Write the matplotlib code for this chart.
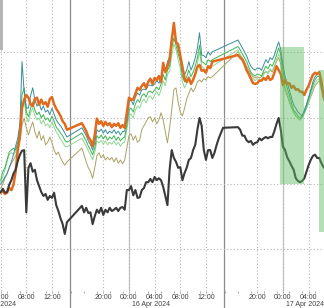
import matplotlib
matplotlib.use('Agg')
import matplotlib.pyplot as plt
import matplotlib.dates as mdates
import matplotlib.transforms as mtransforms
from matplotlib.patches import Rectangle
import pandas as pd

plt.rcParams['font.family'] = ['Liberation Sans', 'DejaVu Sans']

# 20분 간격 시계열 (15 Apr 04:00 ~ 17 Apr 06:40), None = 데이터 없음
times = pd.date_range('2024-04-15 04:00', periods=153, freq='20min')

GAP6 = [None] * 6
GAP11 = [None] * 11

black = [8.7, 9.2, 8.6, 8.7, 9.8, 10.5, 11.5, 12.1, 13.4, 14.4, 15.0, 15.1, 5.6, 12.4, 13.1, 11.8,
         12.1, 10.5, 9.6, 8.7, 8.1, 8.4, 7.5, 8.1, 7.8, 8.6, 6.7, 5.8, 4.7, 3.8, 2.3, 4.1] + GAP6 + \
        [6.6, 5.6, 6.3, 5.5, 5.6, 3.8, 5.0, 6.0, 5.5, 6.3, 5.2, 6.0, 5.6, 6.3, 5.8, 6.0, 6.3, 5.8, 6.3, 6.4,
         6.0, 9.0, 9.0, 9.6, 8.2, 9.0, 7.8, 7.9, 9.0, 9.3, 10.2, 10.2, 10.7, 10.2, 11.0, 10.5, 10.8, 10.5,
         9.5, 8.1, 6.7, 12.1, 15.1, 13.9, 13.3, 12.4, 12.5, 10.5, 11.6, 12.4, 13.6, 13.9, 15.1, 15.9,
         18.2, 20.0, 18.8, 15.1, 13.6, 15.1, 15.1, 13.9,
         14.7, 15.9, 16.9, 17.7, 18.5] + GAP6 + \
        [18.6, 18.2, 17.3, 17.3, 16.6, 16.3, 16.5, 15.9, 16.2, 16.3, 16.9, 16.6, 16.9, 17.1, 16.9, 17.1,
         17.1, 18.0, 19.1, 20.0, 18.2, 15.6, 15.1, 14.0, 13.4, 12.7, 12.1, 10.8, 10.4, 10.2, 10.4, 10.8,
         11.8, 12.8, 13.6, 14.2, 14.4, 13.9, 13.9, 13.1, 12.5, 12.1]

orange = [8.6, 8.9, 8.4, 8.6, 9.3, 9.0, 9.8, 11.8, 15.1, 17.1, 21.5, 22.8, 23.5, 23.1, 22.1, 21.8,
          22.9, 23.1, 22.0, 22.8, 22.1, 22.4, 21.7, 22.9, 23.2, 22.1, 21.4, 20.9, 20.3, 19.5, 19.1, 18.2] + GAP6 + \
         [19.2, 18.6, 18.0, 17.1, 16.6, 15.7, 17.4, 19.9, 19.1, 19.5, 18.8, 19.4, 18.9, 19.2, 18.6, 19.1,
          18.8, 19.2, 18.5, 18.9, 18.5, 20.8, 23.1, 22.8, 22.8, 23.7, 24.6, 24.3, 24.9, 25.3, 24.6, 25.5,
          26.0, 25.2, 26.1, 25.8, 26.4, 25.5, 28.4, 27.0, 27.9, 28.9, 31.9, 34.5, 31.6, 31.2, 29.5, 27.8,
          26.0, 25.5, 26.1, 25.2, 25.8, 26.7, 27.8, 28.1, 27.2, 27.3, 26.9, 27.9, 27.6, 28.6] + GAP11 + \
         [29.6, 29.2, 28.9, 28.2, 27.3, 26.7, 26.0, 25.3, 25.2, 25.3, 25.7, 25.7, 26.1, 25.8, 26.4, 25.8,
          26.0, 26.9, 27.9, 27.3, 26.7, 25.0, 25.8, 25.2, 25.3, 24.6, 24.9, 24.3, 24.4, 24.0, 24.0, 23.5,
          24.3, 24.9, 25.8, 26.6, 26.9, 26.7, 27.0, 25.5, 23.2, 22.4]

teal = [9.9, 10.4, 11.0, 11.5, 12.4, 13.3, 14.4, 15.7, 16.9, 19.1, 28.6, 24.0, 21.5, 21.5, 23.4, 24.6,
        22.8, 21.8, 22.3, 21.2, 21.8, 20.9, 21.2, 20.5, 21.5, 20.6, 19.7, 19.2, 18.8, 18.3, 17.7, 17.1] + GAP6 + \
       [18.5, 17.9, 17.3, 16.5, 15.9, 15.1, 16.2, 18.2, 17.9, 18.3, 17.7, 18.2, 17.6, 18.0, 17.7, 18.2,
        17.6, 18.0, 17.4, 17.9, 18.0, 19.7, 22.4, 22.8, 22.0, 23.2, 23.8, 23.5, 24.3, 24.4, 24.3, 25.0,
        25.0, 24.9, 25.2, 25.7, 25.3, 26.1, 27.6, 26.9, 28.6, 29.3, 32.2, 33.7, 31.9, 30.7, 29.6, 27.3,
        26.6, 27.3, 28.6, 27.3, 28.1, 29.2, 30.7, 33.0, 29.6, 29.5, 29.2, 30.1, 29.6, 30.1] + GAP11 + \
       [31.9, 31.3, 30.7, 30.1, 29.5, 28.6, 27.9, 27.5, 27.3, 27.6, 27.6, 27.3, 28.1, 28.9, 28.4, 29.2,
        28.9, 29.6, 30.7, 31.6, 30.4, 28.1, 26.3, 25.3, 24.3, 23.1, 22.0, 21.5, 20.9, 20.6, 20.3, 21.2,
        22.1, 23.2, 24.3, 25.5, 26.3, 26.7, 26.9, 25.0, 24.0, 23.4]

green = [10.5, 11.8, 12.4, 13.6, 14.8, 15.1, 15.4, 15.1, 16.3, 18.5, 23.5, 24.6, 20.9, 20.2, 21.5, 22.4,
         21.2, 20.5, 20.9, 20.0, 20.5, 19.7, 20.0, 19.4, 20.3, 19.5, 18.6, 18.2, 17.7, 17.3, 16.6, 16.3] + GAP6 + \
        [17.7, 17.1, 16.5, 15.7, 15.1, 14.4, 15.4, 17.3, 16.9, 17.4, 16.8, 17.3, 16.6, 17.1, 16.8, 17.3,
         16.6, 17.1, 16.5, 16.9, 17.1, 18.9, 21.2, 21.5, 20.9, 22.1, 22.8, 22.4, 23.4, 23.7, 23.2, 24.0,
         24.1, 23.8, 24.3, 24.7, 24.3, 25.2, 26.6, 25.8, 27.3, 27.9, 30.7, 32.2, 31.1, 29.8, 28.6, 26.3,
         25.5, 26.3, 27.3, 26.3, 27.0, 27.9, 29.2, 31.1, 28.6, 28.4, 28.1, 28.9, 28.6, 28.9] + GAP11 + \
        [30.9, 30.4, 29.8, 29.2, 28.6, 27.8, 27.0, 26.6, 26.4, 26.7, 26.6, 26.4, 27.2, 27.9, 27.5, 28.2,
         27.9, 28.6, 29.6, 30.7, 29.6, 27.3, 25.5, 24.6, 23.5, 22.3, 21.2, 20.8, 20.3, 20.0, 20.3, 20.9,
         21.8, 22.9, 24.0, 25.0, 25.8, 26.3, 26.4, 24.6, 23.5, 22.9]

lightgreen = [10.2, 11.0, 12.1, 13.3, 14.4, 14.7, 14.4, 14.8, 15.9, 17.9, 22.0, 22.8, 20.0, 19.4, 20.8, 21.5,
              20.3, 19.7, 20.0, 19.1, 19.7, 18.8, 19.1, 18.5, 19.4, 18.6, 17.9, 17.4, 16.8, 16.3, 15.7, 15.6] + GAP6 + \
             [16.9, 16.3, 15.7, 15.0, 14.4, 13.6, 14.7, 16.5, 16.2, 16.6, 16.0, 16.5, 15.9, 16.3, 16.0, 16.5,
              15.9, 16.3, 15.7, 16.2, 16.3, 18.2, 20.3, 20.6, 20.0, 21.2, 21.8, 21.5, 22.4, 22.9, 22.3, 23.1,
              23.4, 22.8, 23.5, 24.0, 23.4, 24.3, 25.7, 24.9, 26.6, 27.2, 29.5, 31.3, 30.4, 28.9, 27.6, 25.5,
              24.6, 25.3, 26.4, 25.3, 26.1, 27.0, 28.2, 30.1, 27.9, 27.6, 27.2, 27.9, 27.6, 27.9] + GAP11 + \
             [30.4, 29.6, 29.0, 28.4, 27.8, 27.0, 26.3, 26.0, 25.7, 26.0, 25.8, 25.8, 26.6, 27.2, 26.7, 27.5,
              27.2, 27.8, 28.9, 29.8, 28.9, 26.6, 24.7, 23.8, 22.8, 21.7, 20.8, 20.3, 20.0, 19.7, 20.0, 20.6,
              21.5, 22.4, 23.5, 24.6, 25.3, 25.8, 26.0, 24.3, 23.1, 22.6]

olive = [9.3, 9.9, 10.8, 11.5, 12.4, 13.1, 13.6, 14.2, 15.1, 16.6, 18.9, 20.0, 18.5, 17.4, 18.5, 19.4,
         17.9, 16.9, 18.0, 16.6, 17.3, 15.9, 16.3, 17.1, 16.2, 15.1, 14.4, 14.8, 13.9, 13.3, 12.8, 13.3] + GAP6 + \
        [15.4, 14.4, 13.3, 12.4, 11.8, 10.8, 12.4, 14.2, 14.7, 13.9, 14.4, 13.6, 14.0, 13.6, 14.0, 13.3,
         13.9, 13.1, 13.6, 13.0, 13.6, 15.4, 17.3, 17.6, 16.6, 17.3, 16.3, 16.6, 18.2, 18.8, 19.4, 20.0,
         20.2, 19.4, 20.0, 19.1, 19.7, 20.8, 19.7, 17.9, 16.2, 18.5, 21.2, 24.3, 24.6, 22.4, 20.9, 20.3,
         21.5, 22.9, 23.7, 24.6, 24.0, 24.6, 25.5, 25.8, 25.5, 26.0, 25.8, 26.3, 26.1, 26.3] + GAP11 + \
        [30.1, 29.6, 29.2, 28.6, 27.9, 27.3, 26.7, 26.3, 26.1, 26.3, 26.1, 26.3, 26.9, 27.0, 27.0, 27.3,
         27.0, 27.8, 28.6, 29.2, 28.2, 26.1, 24.3, 23.4, 22.4, 21.5, 20.9, 20.3, 20.0, 19.7, 20.2, 20.8,
         21.5, 22.3, 23.2, 24.1, 24.9, 25.3, 25.7, 24.3, 22.9, 22.1]

# 강조 구간 (시작, 끝, 하단값, 상단값)
highlights = [('2024-04-16 23:30', '2024-04-17 03:18', 9.9, 30.8),
              ('2024-04-17 05:36', '2024-04-17 07:00', 2.6, 27.3)]

day_labels = ['15 Apr 2024', '16 Apr 2024', '17 Apr 2024']
day_starts = ['2024-04-15', '2024-04-16', '2024-04-17']
session_marks = ['2024-04-15 14:50', '2024-04-16 14:50']

fig = plt.figure(figsize=(3.24, 3.08), dpi=100)
ax = fig.add_axes([0, 17 / 308, 1, 291 / 308])

# 얇은 선 먼저, 굵은 선 나중에
thin = [(olive, '#a9a263'), (lightgreen, '#8fd68f'), (green, '#3cb552'), (teal, '#3a8c9c')]
for vals, col in thin:
    s = pd.Series(vals, index=times, dtype=float).dropna()
    ax.plot(s.index, s.values, color=col, lw=0.7, zorder=3)

s = pd.Series(orange, index=times, dtype=float).dropna()
ax.plot(s.index, s.values, color='#e26a1c', lw=1.8, zorder=4)
s = pd.Series(black, index=times, dtype=float).dropna()
ax.plot(s.index, s.values, color='#3a3a3a', lw=1.5, zorder=4)

for t0, t1, lo, hi in highlights:
    x0 = mdates.date2num(pd.Timestamp(t0))
    x1 = mdates.date2num(pd.Timestamp(t1))
    ax.add_patch(Rectangle((x0, lo), x1 - x0, hi - lo, facecolor='#5cb85c', alpha=0.45,
                           edgecolor='none', zorder=5))

ax.set_xlim(pd.Timestamp('2024-04-15 03:54'), pd.Timestamp('2024-04-17 06:24'))
ax.set_ylim(-6.4, 38.0)

# 축 눈금
ax.xaxis.set_major_locator(mdates.HourLocator(byhour=[0, 4, 8, 12, 20]))
ax.xaxis.set_major_formatter(mdates.DateFormatter('%H:%M'))
ax.xaxis.set_minor_locator(mdates.HourLocator(interval=2))
ax.tick_params(axis='x', which='both', labelsize=5, pad=0.8, length=1.5, color='#999999',
               labelcolor='#404040', width=0.6)
ax.set_yticks([0, 10, 20, 30])
ax.tick_params(axis='y', left=False, labelleft=False)
ax.grid(True, which='major', color='#b5b5b5', lw=0.8, ls=(0, (1, 2)))
for sp in ax.spines.values():
    sp.set_visible(False)

# 날짜 구분선
for d in day_starts[1:]:
    ax.axvline(pd.Timestamp(d), color='#c4c4c4', lw=0.9, zorder=1)
for t in session_marks:
    ax.axvline(pd.Timestamp(t), ymin=-0.07, ymax=1, color='#8a8a8a', lw=0.9, zorder=1, clip_on=False)

trans = mtransforms.blended_transform_factory(ax.transData, ax.transAxes)
for d, lab in zip(day_starts, day_labels):
    x = mdates.date2num(pd.Timestamp(d) + pd.Timedelta(minutes=30))
    ax.text(x, -0.045, lab, transform=trans, fontsize=5, color='#404040', va='center', ha='left',
            clip_on=False)

# 왼쪽 회색 띠
fig.add_artist(Rectangle((0, 1 - 50 / 308), 2.5 / 324, 50 / 308, transform=fig.transFigure,
                         facecolor='#b5b5b5', edgecolor='none'))

fig.savefig('out.png', dpi=100)
